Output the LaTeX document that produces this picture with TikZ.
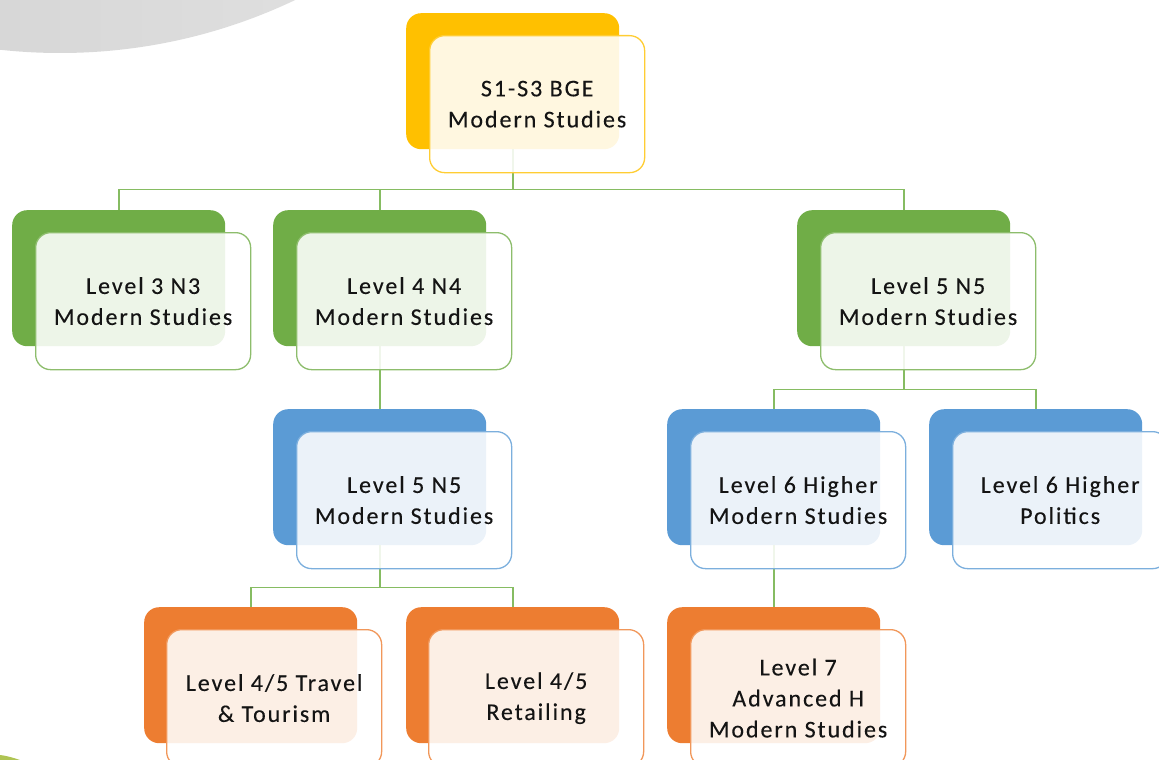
\documentclass[tikz,border=0pt]{standalone}
\usepackage{fontspec}
\setmainfont{Carlito}[LetterSpace=8, FakeBold=0.2]
\definecolor{cgold}{HTML}{FFC000}
\definecolor{cgreen}{HTML}{70AD47}
\definecolor{cblue}{HTML}{5B9BD5}
\definecolor{corange}{HTML}{ED7D31}
\definecolor{cline}{HTML}{86BC62}
\definecolor{ctext}{HTML}{141414}
\definecolor{cgreyL}{HTML}{CBCBCB}
\definecolor{cgreyR}{HTML}{E6E6E6}
\definecolor{colive}{HTML}{AFC453}
\tikzset{
  backbox/.style={draw=none, fill=#1, rounded corners=15pt, anchor=north west,
    minimum width=213pt, minimum height=136pt, inner sep=0pt},
  frontbox/.style={draw=#1!80, line width=1.3pt, fill=white, fill opacity=0.88,
    text opacity=1, rounded corners=15pt, anchor=north west,
    minimum width=215pt, minimum height=137pt, inner sep=0pt, align=center,
    text=ctext, font=\fontsize{24}{31}\selectfont},
  conn/.style={draw=cline, line width=1.6pt}
}
\begin{document}
\begin{tikzpicture}[x=1pt,y=-1pt]
\useasboundingbox (0,0) rectangle (1159,760);
\clip (0,0) rectangle (1159,760);
% background decorations
\shade[left color=cgreyL, right color=cgreyR] (60,-494) circle (547);
\fill[colive] (0,755) .. controls (8,756) and (14,758) .. (20,760) -- (0,760) -- cycle;
% back boxes
\node[backbox=cgold]   (topB)  at (406,13)  {};
\node[backbox=cgreen]  (n3B)   at (12,210)  {};
\node[backbox=cgreen]  (n4B)   at (273,210) {};
\node[backbox=cgreen]  (n5aB)  at (797,210) {};
\node[backbox=cblue]   (n5bB)  at (273,409) {};
\node[backbox=cblue]   (h6mB)  at (667,409) {};
\node[backbox=cblue]   (h6pB)  at (929,409) {};
\node[backbox=corange] (ttB)   at (144,607) {};
\node[backbox=corange] (retB)  at (406,607) {};
\node[backbox=corange] (l7B)   at (667,607) {};
% connectors
\draw[conn] (topB.south) -- ++(0,40) -| (n3B.north);
\draw[conn] (topB.south) -- ++(0,40) -| (n4B.north);
\draw[conn] (topB.south) -- ++(0,40) -| (n5aB.north);
\draw[conn] (n4B.south) -- (n5bB.north);
\draw[conn] (n5aB.south) -- ++(0,43) -| (h6mB.north);
\draw[conn] (n5aB.south) -- ++(0,43) -| (h6pB.north);
\draw[conn] (n5bB.south) -- ++(0,42) -| (ttB.north);
\draw[conn] (n5bB.south) -- ++(0,42) -| (retB.north);
\draw[conn] (h6mB.south) -- (l7B.north);
% front boxes with text
\node[frontbox=cgold]   (topF) at (429,35)  {S1-S3 BGE\\Modern Studies};
\node[frontbox=cgreen]  (n3F)  at (35,232)  {Level 3 N3\\Modern Studies};
\node[frontbox=cgreen]  (n4F)  at (296,232) {Level 4 N4\\Modern Studies};
\node[frontbox=cgreen]  (n5aF) at (820,232) {Level 5 N5\\Modern Studies};
\node[frontbox=cblue]   (n5bF) at (296,431) {Level 5 N5\\Modern Studies};
\node[frontbox=cblue]   (h6mF) at (690,431) {Level 6 Higher\\Modern Studies};
\node[frontbox=cblue]   (h6pF) at (952,431) {Level 6 Higher\\Politics};
\node[frontbox=corange] (ttF)  at (166,629) {Level 4/5 Travel\\\& Tourism};
\node[frontbox=corange] (retF) at (428,629) {Level 4/5\\Retailing};
\node[frontbox=corange] (l7F)  at (690,629) {Level 7\\Advanced H\\Modern Studies};
\end{tikzpicture}
\end{document}
